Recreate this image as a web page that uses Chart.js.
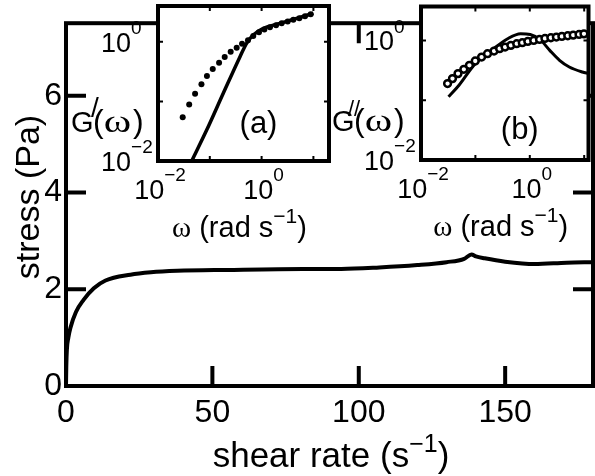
<!DOCTYPE html>
<html>
<head>
<meta charset="utf-8">
<script src="https://cdn.jsdelivr.net/npm/chart.js@4.4.1/dist/chart.umd.min.js"></script>
<style>
  html, body { margin: 0; padding: 0; background: #fff; overflow: hidden; }
  #wrap { position: relative; width: 595px; height: 476px; }
  #wrap canvas { position: absolute; left: 0; top: 0; }
</style>
</head>
<body>
<div id="wrap">
  <canvas id="main" width="595" height="476"></canvas>
  <canvas id="insetA" width="595" height="476"></canvas>
  <canvas id="insetB" width="595" height="476"></canvas>
</div>
<script>
"use strict";

/* ---------------- DATA ---------------- */

// main panel: flow curve
const shearRate = [0, 0.1, 0.3, 0.8, 1.5, 3.4, 6, 9.5, 13.5, 22, 29, 38, 55, 81, 94, 107, 120, 130, 136, 138.5, 140, 143, 150, 160, 171, 180];
const stress    = [0, 0.4, 0.75, 1.0, 1.2, 1.53, 1.78, 2.02, 2.18, 2.30, 2.35, 2.38, 2.40, 2.42, 2.42, 2.45, 2.50, 2.56, 2.63, 2.72, 2.68, 2.64, 2.57, 2.52, 2.55, 2.56];
const xTicks = [0, 50, 100, 150];
const yTicks = [0, 2, 4, 6];

// inset (a): storage modulus, data (dots) and model (line)
const omegaA    = [0.030, 0.040, 0.052, 0.069, 0.088, 0.114, 0.151, 0.194, 0.253, 0.330, 0.419, 0.546, 0.69, 0.89, 1.13, 1.45, 1.90, 2.44, 3.19, 4.09, 5.35, 6.89, 8.87];
const gPrime    = [0.054, 0.089, 0.135, 0.194, 0.267, 0.350, 0.447, 0.557, 0.684, 0.80, 0.93, 1.06, 1.25, 1.45, 1.62, 1.76, 1.90, 2.05, 2.20, 2.35, 2.50, 2.68, 2.92];
const omegaFitA = [0.0448, 0.087, 0.182, 0.383, 0.513, 0.69, 1.08, 2.26, 4.75, 9.96];
const gPrimeFit = [0.01, 0.033, 0.137, 0.564, 0.946, 1.30, 1.69, 2.04, 2.48, 3.02];

// inset (b): loss modulus, data (open circles) and model (line)
const omegaB     = [0.0308, 0.0379, 0.0479, 0.0613, 0.0776, 0.0993, 0.130, 0.167, 0.220, 0.279, 0.351, 0.449, 0.575, 0.728, 0.92, 1.18, 1.51, 1.90, 2.44, 3.08, 3.89, 4.99, 6.28, 8.05, 9.9];
const gDouble    = [0.190, 0.230, 0.279, 0.329, 0.384, 0.453, 0.528, 0.601, 0.665, 0.729, 0.775, 0.828, 0.883, 0.918, 0.964, 1.0, 1.04, 1.08, 1.11, 1.14, 1.17, 1.20, 1.23, 1.26, 1.29];
const omegaFitB  = [0.0321, 0.0499, 0.0993, 0.197, 0.392, 0.678, 1.02, 1.55, 2.33, 3.52, 5.32, 9.25, 12];
const gDoubleFit = [0.114, 0.178, 0.409, 0.682, 1.07, 1.30, 1.26, 1.03, 0.682, 0.465, 0.36, 0.297, 0.28];

const insetLabelExp = [-2, 0];     // decades that carry a 10^n label
const insetTickMarks = [0.1, 1, 10];

const SANS = '"Liberation Sans", Arial, sans-serif';
const SERIF = '"Liberation Serif", "Times New Roman", serif';

/* ---------------- TEXT HELPERS ---------------- */

// parts: [{ t, sup, serif, size, sx, gap }]
function richText(ctx, parts, x, y, size, align, raise = 0.65, supScale = 0.72) {
  const sizeOf = p => p.size || (p.sup ? Math.round(size * supScale) : size);
  const fontFor = p => `${sizeOf(p)}px ${p.serif ? SERIF : SANS}`;
  const widthOf = p => {
    ctx.font = fontFor(p);
    return ctx.measureText(p.t).width * (p.sx || 1) + (p.gap || 0);
  };
  const total = parts.reduce((s, p) => s + widthOf(p), 0);
  let cx = align === "center" ? x - total / 2 : align === "right" ? x - total : x;
  ctx.textAlign = "left";
  ctx.textBaseline = "alphabetic";
  ctx.fillStyle = "#000";
  for (const p of parts) {
    const w = widthOf(p);
    ctx.save();
    ctx.translate(cx, p.sup ? y - size * raise : y);
    ctx.scale(p.sx || 1, 1);
    ctx.fillText(p.t, 0, 0);
    ctx.restore();
    cx += w;
  }
}

function pow10(exp) {
  return [{ t: "10" }, { t: String(exp).replace("-", "\u2212"), sup: true }];
}

const zip = (xs, ys) => xs.map((x, i) => ({ x, y: ys[i] }));

/* ---------------- MAIN PANEL ---------------- */

const mainFrame = {
  id: "mainFrame",
  afterDraw(chart) {
    const { ctx, chartArea: a, scales } = chart;
    ctx.save();
    ctx.strokeStyle = "#000";
    ctx.lineWidth = 4;
    ctx.strokeRect(a.left, a.top, a.right - a.left, a.bottom - a.top);

    // inward ticks on all four sides
    ctx.beginPath();
    for (const v of xTicks.slice(1)) {
      const px = scales.x.getPixelForValue(v);
      ctx.moveTo(px, a.bottom); ctx.lineTo(px, a.bottom - 20);
      ctx.moveTo(px, a.top); ctx.lineTo(px, a.top + 20);
    }
    for (const v of yTicks.slice(1)) {
      const py = scales.y.getPixelForValue(v);
      ctx.moveTo(a.left, py); ctx.lineTo(a.left + 20, py);
      ctx.moveTo(a.right, py); ctx.lineTo(a.right - 20, py);
    }
    ctx.stroke();

    // axis titles
    richText(ctx, [{ t: "shear rate (s" }, { t: "\u22121", sup: true }, { t: ")" }], 331, 467, 35, "center", 0.42);
    ctx.translate(28, 197);
    ctx.rotate(-Math.PI / 2);
    richText(ctx, [{ t: "stress (Pa)" }], 0, 11, 34, "center");
    ctx.restore();
  },
};

new Chart(document.getElementById("main"), {
  type: "line",
  data: {
    datasets: [{
      data: zip(shearRate, stress),
      borderColor: "#000",
      borderWidth: 4,
      pointRadius: 0,
      cubicInterpolationMode: "monotone",
      fill: false,
    }],
  },
  options: {
    responsive: false,
    animation: false,
    events: [],
    layout: { padding: { left: 0, top: 5, right: 2, bottom: 0 } },
    plugins: { legend: { display: false }, tooltip: { enabled: false } },
    scales: {
      x: {
        type: "linear", min: 0, max: 180,
        afterBuildTicks: s => { s.ticks = xTicks.map(v => ({ value: v })); },
        afterFit: s => { s.height = 90; },
        grid: { display: false, drawTicks: false },
        border: { display: false },
        ticks: { color: "#000", font: { family: SANS, size: 32 }, padding: 8, maxRotation: 0, autoSkip: false },
      },
      y: {
        type: "linear", min: 0, max: 7.5,
        afterBuildTicks: s => { s.ticks = yTicks.map(v => ({ value: v })); },
        afterFit: s => { s.width = 66; },
        grid: { display: false, drawTicks: false },
        border: { display: false },
        ticks: { color: "#000", font: { family: SANS, size: 32 }, padding: 4, autoSkip: false },
      },
    },
  },
  plugins: [mainFrame],
});

/* ---------------- INSETS ---------------- */

function insetFrame(cfg) {
  return {
    id: "insetFrame",
    beforeDraw(chart) {
      const { ctx, chartArea: a } = chart;
      ctx.save();
      ctx.fillStyle = "#fff";
      ctx.fillRect(a.left, a.top, a.right - a.left, a.bottom - a.top);
      ctx.restore();
    },
    afterDraw(chart) {
      const { ctx, chartArea: a, scales } = chart;
      ctx.save();
      ctx.strokeStyle = "#000";
      ctx.lineWidth = 4;
      ctx.strokeRect(a.left, a.top, a.right - a.left, a.bottom - a.top);

      ctx.lineWidth = 2;
      ctx.beginPath();
      for (const v of insetTickMarks) {
        const px = scales.x.getPixelForValue(v);
        if (px > a.left + 2 && px < a.right - 2) {
          ctx.moveTo(px, a.bottom); ctx.lineTo(px, a.bottom - 5);
          ctx.moveTo(px, a.top); ctx.lineTo(px, a.top + 5);
        }
        const py = scales.y.getPixelForValue(v);
        if (py > a.top + 2 && py < a.bottom - 2) {
          ctx.moveTo(a.left, py); ctx.lineTo(a.left + 5, py);
          ctx.moveTo(a.right, py); ctx.lineTo(a.right - 5, py);
        }
      }
      ctx.stroke();

      for (const e of insetLabelExp) {
        const px = scales.x.getPixelForValue(Math.pow(10, e));
        richText(ctx, pow10(e), px + 2, a.bottom + 38, 27, "center");
        const py = scales.y.getPixelForValue(Math.pow(10, e));
        richText(ctx, pow10(e), a.left - 57, py + 10, 27, "left");
      }

      const mid = (a.left + a.right) / 2;
      richText(ctx, [{ t: "\u03c9", serif: true }, { t: " (rad s" }, { t: "\u22121", sup: true }, { t: ")" }],
        mid - 4, a.bottom + 76, 29, "center", 0.5);

      // G'(w) / G''(w) label
      const gx = a.left - cfg.gOffset;
      const gy = a.bottom - 29;
      richText(ctx, [{ t: "G" }], gx, gy, 29, "left");
      richText(ctx, [{ t: cfg.primes }], gx + cfg.primeX, gy - 15, cfg.primeSize, "left");
      richText(ctx, [
        { t: "(" },
        { t: "\u03c9", serif: true, sx: 1.3, gap: 2 },
        { t: ")" },
      ], gx + 22, gy, 32, "left");

      richText(ctx, [{ t: cfg.tag }], mid + 15, cfg.tagY, 31, "center");
      ctx.restore();
    },
  };
}

function makeInset(id, area, xMax, yMax, datasets, cfg) {
  return new Chart(document.getElementById(id), {
    type: "line",
    data: { datasets },
    options: {
      responsive: false,
      animation: false,
      events: [],
      layout: { padding: { left: area.left, top: area.top, right: 595 - area.right, bottom: 476 - area.bottom } },
      plugins: { legend: { display: false }, tooltip: { enabled: false } },
      scales: {
        x: { type: "logarithmic", min: 0.01, max: xMax, display: false },
        y: { type: "logarithmic", min: 0.01, max: yMax, display: false },
      },
    },
    plugins: [insetFrame(cfg)],
  });
}

makeInset("insetA", { left: 158, top: 6, right: 329, bottom: 161 }, 20, 4, [
  {
    data: zip(omegaA, gPrime),
    showLine: false,
    pointRadius: 3,
    pointBackgroundColor: "#000",
    pointBorderWidth: 0,
  },
  {
    data: zip(omegaFitA, gPrimeFit),
    borderColor: "#000",
    borderWidth: 3.5,
    pointRadius: 0,
    cubicInterpolationMode: "monotone",
  },
], { primes: "/", primeSize: 28, primeX: 20, gOffset: 87, tag: "(a)", tagY: 133 });

makeInset("insetB", { left: 421, top: 6, right: 593, bottom: 160 }, 12, 3.7, [
  {
    data: zip(omegaB, gDouble),
    showLine: false,
    pointRadius: 3.4,
    pointBackgroundColor: "#fff",
    pointBorderColor: "#000",
    pointBorderWidth: 2.5,
  },
  {
    data: zip(omegaFitB, gDoubleFit),
    borderColor: "#000",
    borderWidth: 3,
    pointRadius: 0,
    cubicInterpolationMode: "monotone",
  },
], { primes: "//", primeSize: 22, primeX: 16, gOffset: 89, tag: "(b)", tagY: 139 });
</script>
</body>
</html>
